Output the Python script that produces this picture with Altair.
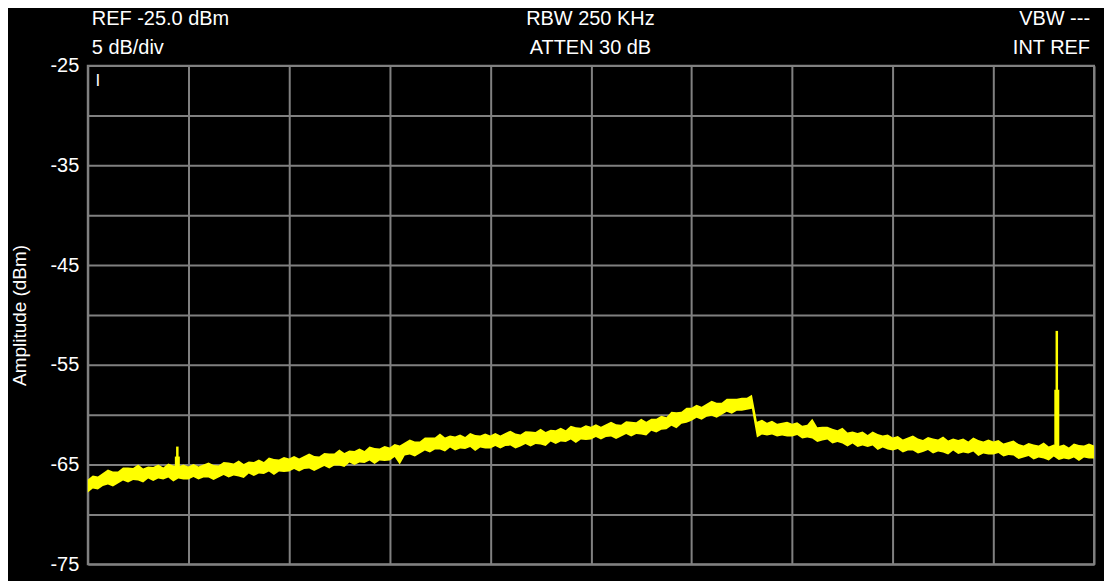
import altair as alt
import pandas as pd

# Sweep points (0..1000 span units, 201 points)
freq = list(range(0, 1001, 5))

# Upper and lower envelope of the noisy trace (dBm)
hi = [
    -66.5, -66.1, -66.2, -65.85, -65.5, -65.7, -65.7, -65.3, -65.3, -65.35,
    -65.0, -65.4, -65.2, -65.25, -65.0, -65.3, -64.9, -65.1, -65.2, -65.0,
    -65.2, -64.95, -65.2, -65.0, -64.8, -65.05, -65.1, -64.75, -64.8, -64.9,
    -64.6, -64.95, -64.7, -64.75, -64.5, -64.75, -64.3, -64.45, -64.5, -64.25,
    -64.4, -64.15, -64.4, -64.15, -63.9, -64.15, -64.2, -63.85, -63.9, -63.9,
    -63.5, -63.85, -63.6, -63.65, -63.4, -63.65, -63.2, -63.35, -63.4, -63.15,
    -63.3, -62.95, -63.1, -62.8, -62.5, -62.7, -62.7, -62.3, -62.3, -62.3,
    -61.9, -62.3, -62.1, -62.2, -62.0, -62.25, -61.85, -62.05, -62.1, -61.9,
    -62.1, -61.85, -62.1, -61.85, -61.6, -61.9, -62.0, -61.65, -61.7, -61.75,
    -61.4, -61.75, -61.5, -61.55, -61.3, -61.55, -61.1, -61.25, -61.3, -61.05,
    -61.2, -60.95, -61.2, -60.95, -60.7, -60.95, -61.0, -60.65, -60.7, -60.75,
    -60.4, -60.7, -60.4, -60.4, -60.1, -60.25, -59.7, -59.75, -59.7, -59.3,
    -59.3, -59.0, -59.2, -58.9, -58.6, -58.8, -58.8, -58.4, -58.4, -58.4,
    -58.3, -58.3, -58.0, -60.7, -60.5, -60.8, -60.6, -60.9, -60.8, -60.7,
    -60.9, -60.75, -61.1, -61.0, -60.4, -61.25, -61.2, -61.2, -61.4, -61.55,
    -61.3, -61.8, -61.7, -61.85, -61.7, -62.05, -61.7, -61.95, -62.1, -62.0,
    -62.3, -62.15, -62.5, -62.3, -62.1, -62.4, -62.55, -62.25, -62.4, -62.5,
    -62.2, -62.6, -62.4, -62.55, -62.4, -62.7, -62.3, -62.55, -62.7, -62.5,
    -62.7, -62.55, -62.9, -62.75, -62.6, -62.95, -63.1, -62.85, -63.0, -63.1,
    -62.8, -63.2, -63.0, -63.15, -63.0, -63.3, -62.9, -63.05, -63.1, -62.9,
    -63.1,
]
lo = [
    -67.8, -67.4, -67.5, -67.15, -67.0, -67.2, -66.9, -66.6, -66.8, -66.55,
    -66.6, -66.8, -66.4, -66.65, -66.4, -66.5, -66.3, -66.7, -66.4, -66.5,
    -66.5, -66.25, -66.5, -66.3, -66.3, -66.55, -66.3, -66.05, -66.3, -66.1,
    -66.2, -66.35, -65.9, -66.15, -65.9, -65.95, -65.7, -66.05, -65.7, -65.75,
    -65.7, -65.45, -65.7, -65.45, -65.4, -65.65, -65.4, -65.15, -65.4, -65.1,
    -65.1, -65.25, -64.8, -65.05, -64.8, -64.85, -64.6, -64.95, -64.6, -64.65,
    -64.6, -64.25, -65.0, -64.1, -64.0, -64.2, -63.9, -63.6, -63.8, -63.5,
    -63.5, -63.7, -63.3, -63.6, -63.4, -63.45, -63.25, -63.65, -63.3, -63.4,
    -63.4, -63.15, -63.4, -63.15, -63.1, -63.4, -63.2, -62.95, -63.2, -62.95,
    -63.0, -63.15, -62.7, -62.95, -62.7, -62.75, -62.5, -62.85, -62.5, -62.55,
    -62.5, -62.25, -62.5, -62.25, -62.2, -62.45, -62.2, -61.95, -62.2, -61.95,
    -62.0, -62.1, -61.6, -61.8, -61.5, -61.45, -61.1, -61.35, -60.9, -60.8,
    -60.6, -60.3, -60.5, -60.2, -60.1, -60.3, -60.0, -59.7, -59.9, -59.6,
    -59.6, -59.5, -59.4, -62.3, -62.0, -62.1, -62.0, -62.2, -62.1, -62.2,
    -62.2, -62.05, -62.4, -62.3, -62.4, -62.75, -62.6, -62.5, -62.9, -62.75,
    -62.9, -63.2, -62.9, -63.25, -63.1, -63.25, -63.1, -63.55, -63.3, -63.5,
    -63.6, -63.45, -63.8, -63.6, -63.6, -63.9, -63.75, -63.55, -63.9, -63.7,
    -63.8, -64.0, -63.6, -63.95, -63.8, -63.9, -63.7, -64.15, -63.9, -64.0,
    -64.0, -63.85, -64.2, -64.05, -64.1, -64.45, -64.3, -64.15, -64.5, -64.3,
    -64.4, -64.6, -64.2, -64.55, -64.4, -64.5, -64.3, -64.65, -64.3, -64.4,
    -64.4,
]

# Narrow spurs
spur_freq = [89, 963]
spur_peak = [-63.2, -51.6]
spur_shoulder = [-64.2, -57.5]
spur_base = [-65.8, -63.8]

# Header annotations
hdr_left = ["REF -25.0 dBm", "5 dB/div"]
hdr_center = ["RBW 250 KHz", "ATTEN 30 dB"]
hdr_right = ["VBW ---", "INT REF"]
marker_label = ["I"]

y_ticks = [-75, -70, -65, -60, -55, -50, -45, -40, -35, -30, -25]
x_ticks = [0, 100, 200, 300, 400, 500, 600, 700, 800, 900, 1000]

FONT = "Liberation Sans"
FS = 20
GRID = "#808080"
YEL = "#ffff00"

trace = pd.DataFrame({"freq": freq, "hi": hi, "lo": lo})
spurs = pd.DataFrame({"freq": spur_freq, "peak": spur_peak,
                      "shoulder": spur_shoulder, "base": spur_base})

xscale = alt.Scale(domain=[0, 1000], nice=False, zero=False)
yscale = alt.Scale(domain=[-75, -25], nice=False, zero=False)

xaxis = alt.Axis(values=x_ticks, labels=False, ticks=False, domain=False,
                 grid=True, gridColor=GRID, gridWidth=2, gridOpacity=1, title="")
yaxis = alt.Axis(values=y_ticks, ticks=False, domain=False, grid=True,
                 gridColor=GRID, gridWidth=2, gridOpacity=1,
                 labelExpr="(datum.value + 25) % 10 == 0 ? '' + datum.value : ''",
                 labelColor="white", labelFont=FONT, labelFontSize=FS, labelPadding=9,
                 title="Amplitude (dBm)", titleColor="white", titleFont=FONT,
                 titleFontSize=19, titleFontWeight="normal", titleAngle=-90,
                 titleX=-68, titleY=250, titleAlign="center", titleBaseline="middle")

band = alt.Chart(trace).mark_area(color=YEL, opacity=1, interpolate="linear").encode(
    x=alt.X("freq:Q", scale=xscale, axis=xaxis),
    y=alt.Y("hi:Q", scale=yscale, axis=yaxis),
    y2="lo:Q",
)

shoulders = alt.Chart(spurs).mark_rule(color=YEL, strokeWidth=5).encode(
    x=alt.X("freq:Q", scale=xscale),
    y=alt.Y("shoulder:Q", scale=yscale),
    y2="base:Q",
)
peaks = alt.Chart(spurs).mark_rule(color=YEL, strokeWidth=2.5).encode(
    x=alt.X("freq:Q", scale=xscale),
    y=alt.Y("peak:Q", scale=yscale),
    y2="base:Q",
)


def header(lines, x, align):
    layers = []
    for i, t in enumerate(lines):
        layers.append(
            alt.Chart(pd.DataFrame({"t": [t]})).mark_text(
                color="white", font=FONT, fontSize=FS, align=align,
                baseline="alphabetic").encode(
                text="t:N", x=alt.value(x), y=alt.value(-41 + 29 * i))
        )
    return layers


texts = header(hdr_left, 4, "left") + header(hdr_center, 504, "center") + \
    header(hdr_right, 1005, "right")

marker = alt.Chart(pd.DataFrame({"t": marker_label})).mark_text(
    color="white", font=FONT, fontSize=17, align="center", baseline="middle").encode(
    text="t:N", x=alt.value(10), y=alt.value(15))

chart = alt.layer(band, shoulders, peaks, marker, *texts).properties(
    width=1009, height=500,
    background="black",
    padding={"left": 80, "top": 57, "right": 10, "bottom": 16},
    autosize=alt.AutoSizeParams(type="none"),
).configure_view(fill="black", stroke=GRID, strokeWidth=2)

chart.save("out.html", embed_options={"renderer": "svg", "actions": False})
